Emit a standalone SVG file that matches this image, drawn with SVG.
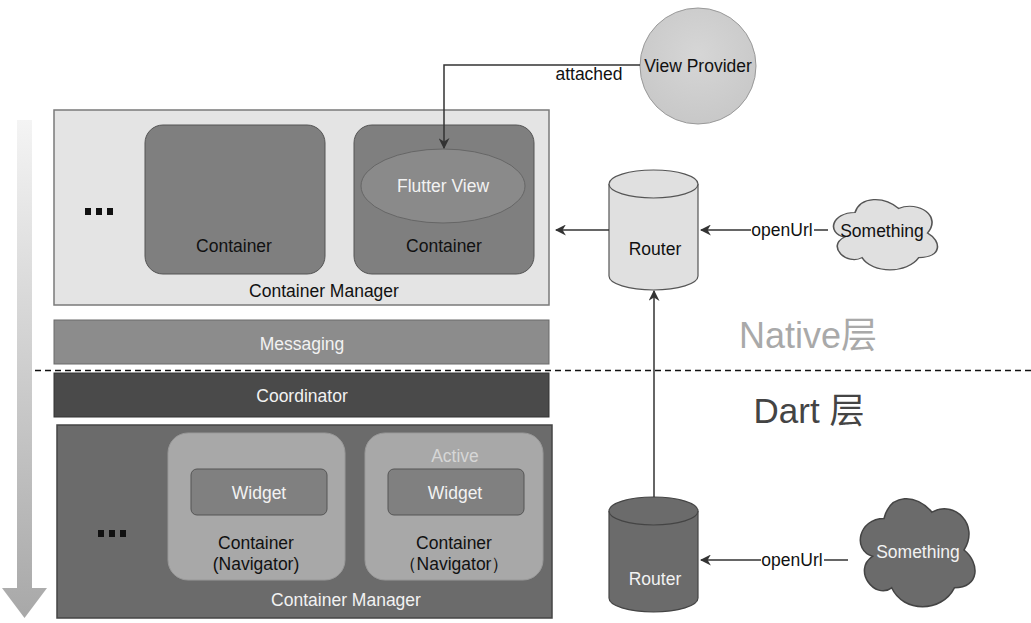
<svg xmlns="http://www.w3.org/2000/svg" width="1031" height="623" viewBox="0 0 1031 623">
<style>
text{font-family:"Liberation Sans",Arial,sans-serif;font-size:17.5px;text-anchor:middle;dominant-baseline:central}
.dk{fill:#111}
.wt{fill:#f2f2f2}
.conn{fill:none;stroke:#333;stroke-width:1.5}
</style>
<defs>
<marker id="ah" viewBox="0 0 10 10" refX="9" refY="5" markerWidth="11" markerHeight="11" markerUnits="userSpaceOnUse" orient="auto">
<path d="M0,0 L10,5 L0,10 L3,5 Z" fill="#333"/>
</marker>
<linearGradient id="ga" x1="0" y1="0" x2="0" y2="1">
<stop offset="0" stop-color="#f4f4f4"/>
<stop offset="1" stop-color="#a8a8a8"/>
</linearGradient>
<radialGradient id="gc" cx="0.5" cy="0.4" r="0.6">
<stop offset="0" stop-color="#d6d6d6"/>
<stop offset="1" stop-color="#c8c8c8"/>
</radialGradient>
<path id="cloud" d="M0.25,0.25 C0.05,0.25 0,0.5 0.16,0.55 C0,0.66 0.18,0.9 0.31,0.8 C0.4,1 0.7,1 0.8,0.8 C1,0.8 1,0.6 0.875,0.5 C1,0.3 0.8,0.1 0.625,0.2 C0.5,0.05 0.3,0.05 0.25,0.25 Z"/>
</defs>
<rect width="1031" height="623" fill="#fff"/>

<g id="flow-arrow">
<path d="M17,120 L32,120 L32,588 L47,588 L24.5,618 L2,588 L17,588 Z" fill="url(#ga)"/>
</g>

<g id="native-manager">
<rect x="54" y="110" width="495" height="195" fill="#e4e4e4" stroke="#7a7a7a" stroke-width="1.5"/>
<text x="324" y="291" class="dk">Container Manager</text>
<g fill="#111"><rect x="85" y="208" width="6" height="7"/><rect x="96" y="208" width="6" height="7"/><rect x="107" y="208" width="6" height="7"/></g>
</g>
<g id="native-container-1">
<rect x="145" y="125" width="180" height="149" rx="18" fill="#7f7f7f" stroke="#555" stroke-width="1"/>
<text x="234" y="246" class="dk">Container</text>
</g>
<g id="native-container-2">
<rect x="354" y="125" width="180" height="149" rx="18" fill="#7f7f7f" stroke="#555" stroke-width="1"/>
<text x="444" y="246" class="dk">Container</text>
</g>
<g id="flutter-view">
<ellipse cx="443" cy="186" rx="82" ry="37" fill="#8a8a8a" stroke="#666" stroke-width="1"/>
<text x="443" y="186" class="wt">Flutter View</text>
</g>

<g id="messaging">
<rect x="54" y="320" width="495" height="44" fill="#8c8c8c" stroke="#6a6a6a" stroke-width="1"/>
<text x="302" y="344" class="wt">Messaging</text>
</g>

<g id="coordinator">
<rect x="54" y="373" width="495" height="44" fill="#4a4a4a" stroke="#333" stroke-width="1"/>
<text x="302" y="396" class="wt">Coordinator</text>
</g>

<g id="dart-manager">
<rect x="57" y="425" width="495" height="193" fill="#6b6b6b" stroke="#444" stroke-width="1.5"/>
<text x="346" y="600" class="wt">Container Manager</text>
<g fill="#111"><rect x="98" y="530" width="6" height="7"/><rect x="109" y="530" width="6" height="7"/><rect x="120" y="530" width="6" height="7"/></g>
</g>
<g id="dart-container-1">
<rect x="168" y="433" width="177" height="147" rx="20" fill="#a8a8a8" stroke="#999" stroke-width="1"/>
<rect x="191" y="469" width="136" height="46" rx="6" fill="#808080" stroke="#555" stroke-width="1"/>
<text x="259" y="493" class="wt">Widget</text>
<text x="256" y="543" class="dk">Container</text>
<text x="256" y="564" class="dk">(Navigator)</text>
</g>
<g id="dart-container-2">
<rect x="365" y="433" width="178" height="147" rx="20" fill="#a8a8a8" stroke="#999" stroke-width="1"/>
<text x="455" y="456" fill="#d6d6d6">Active</text>
<rect x="388" y="469" width="136" height="46" rx="6" fill="#808080" stroke="#555" stroke-width="1"/>
<text x="455" y="493" class="wt">Widget</text>
<text x="454" y="543" class="dk">Container</text>
<text x="454" y="564" class="dk">（Navigator）</text>
</g>

<g id="layer-divider">
<line x1="35" y1="370.5" x2="1031" y2="370.5" stroke="#111" stroke-width="1.5" stroke-dasharray="6,4"/>
</g>
<g id="layer-labels">
<text x="808" y="335" style="font-size:36px;font-family:'Liberation Sans','Noto Sans CJK SC',sans-serif" fill="#a9a9a9">Native层</text>
<text x="809" y="410" style="font-size:35px;font-family:'Liberation Sans','Noto Sans CJK SC',sans-serif" fill="#444">Dart 层</text>
</g>

<g id="view-provider">
<circle cx="698" cy="66" r="58" fill="url(#gc)" stroke="#999" stroke-width="1"/>
<text x="698" y="66" class="dk">View Provider</text>
</g>

<g id="native-router">
<path d="M609,184 L609,276 A44.5,14 0 0 0 698,276 L698,184" fill="#e0e0e0" stroke="#555" stroke-width="1.2"/>
<ellipse cx="653.5" cy="184" rx="44.5" ry="14" fill="#e0e0e0" stroke="#555" stroke-width="1.2"/>
<text x="655" y="249" class="dk">Router</text>
</g>
<g id="native-something">
<use href="#cloud" transform="translate(826,192) scale(116,82)" fill="#e0e0e0" stroke="#555" stroke-width="0.014"/>
<text x="882" y="231" class="dk">Something</text>
</g>

<g id="dart-router">
<path d="M609,511 L609,598 A44.5,14 0 0 0 698,598 L698,511" fill="#6b6b6b" stroke="#444" stroke-width="1.2"/>
<ellipse cx="653.5" cy="511" rx="44.5" ry="14" fill="#6b6b6b" stroke="#444" stroke-width="1.2"/>
<text x="655" y="579" class="wt">Router</text>
</g>
<g id="dart-something">
<use href="#cloud" transform="translate(852,487) scale(128,126)" fill="#6b6b6b" stroke="#444" stroke-width="0.012"/>
<text x="918" y="552" class="wt">Something</text>
</g>

<g id="connectors">
<path class="conn" d="M640,65 L444,65 L444,148" marker-end="url(#ah)"/>
<rect x="555" y="66" width="68" height="18" fill="#fff"/>
<text x="589" y="74" class="dk">attached</text>
<path class="conn" d="M828,230 L701,230" marker-end="url(#ah)"/>
<rect x="751" y="221" width="63" height="18" fill="#fff"/>
<text x="782" y="230" class="dk">openUrl</text>
<path class="conn" d="M609,230 L556,230" marker-end="url(#ah)"/>
<path class="conn" d="M654,497 L654,291" marker-end="url(#ah)"/>
<path class="conn" d="M848,560 L701,560" marker-end="url(#ah)"/>
<rect x="761" y="551" width="63" height="18" fill="#fff"/>
<text x="792" y="560" class="dk">openUrl</text>
</g>
</svg>
